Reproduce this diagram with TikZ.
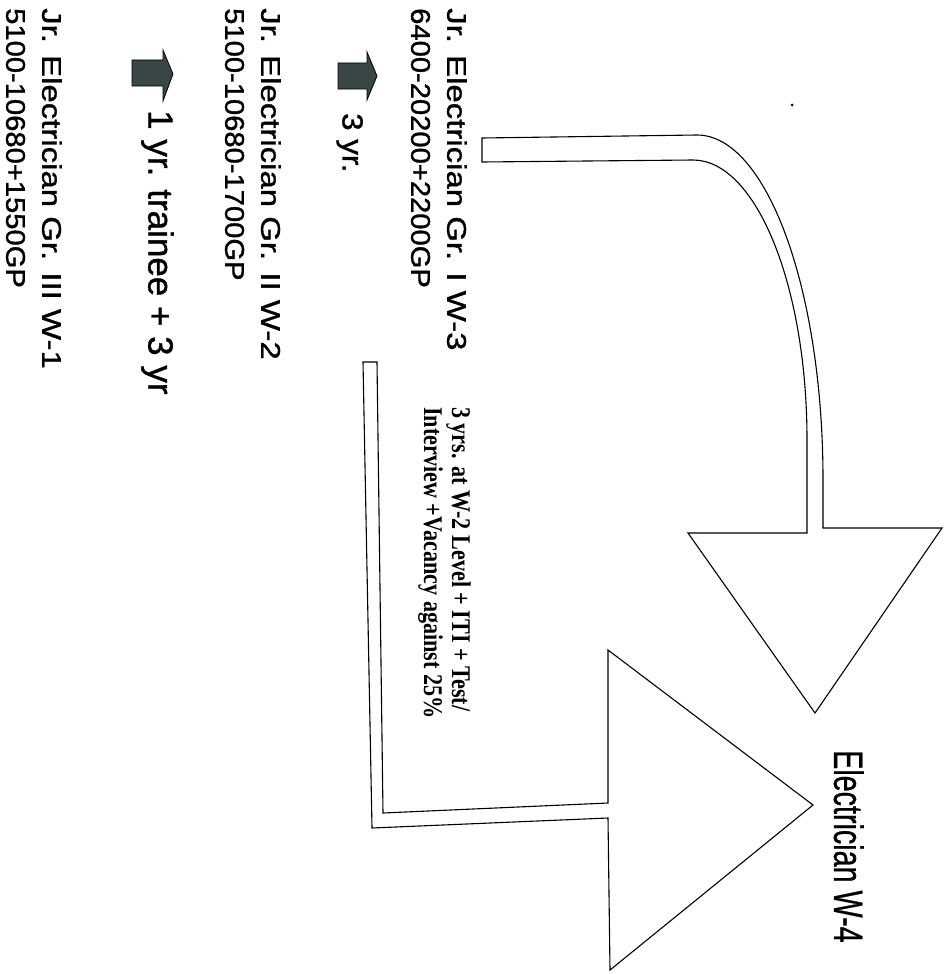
\documentclass[tikz,border=0pt]{standalone}
\usepackage{fontspec}
\setmainfont[FakeBold=1]{Liberation Sans}
\newfontfamily\namefont[FakeStretch=1.22,FakeBold=1.2]{Liberation Sans}
\newfontfamily\payfont[FakeStretch=1.08,FakeBold=1.2]{Liberation Sans}
\newfontfamily\postfont[FakeStretch=0.7,FakeBold=0.6]{Liberation Sans}
\newfontfamily\rulefont[FakeStretch=0.82]{Liberation Serif}
\usepackage{tikz}
\definecolor{blockgray}{HTML}{3A4646}

\begin{document}
\begin{tikzpicture}[x=1pt,y=-1pt,
    rank/.style={rotate=-90,anchor=north west,inner sep=0pt,align=left,
      font=\fontsize{27}{36}\selectfont},
    hollow/.style={draw,line width=1.1pt,fill=white,line join=miter},
    stub/.style={draw,line width=0.8pt,fill=blockgray}]
    \useasboundingbox (0,0) rectangle (944,974);
    % grades, bottom to top
    \node[rank] (w1) at (62,8)
      {{\namefont Jr. Electrician Gr. III W-1}\\{\payfont 5100-10680+1550GP}};
    \node[rank] (w2) at (281,8)
      {{\namefont Jr. Electrician Gr. II W-2}\\{\payfont 5100-10680-1700GP}};
    \node[rank] (w3) at (467,8)
      {{\namefont Jr. Electrician Gr. I W-3}\\{\payfont 6400-20200+2200GP}};
    \node[rank,font=\postfont\fontsize{41}{48}\selectfont] (w4) at (864,750) {Electrician W-4};
    %
    \node[rank,font=\fontsize{35}{40}\selectfont] (gap1) at (174,110) {1 yr. trainee + 3 yr};
    \node[rank,font=\payfont\fontsize{29}{36}\selectfont] (gap2) at (363,113) {3 yr.};
    \node[rank,font=\rulefont\bfseries\fontsize{27}{28}\selectfont] (cond) at (471,407)
      {3 yrs. at W-2 Level + ITI + Test/\\Interview +Vacancy against 25\%};
    %
    \draw[stub] (132,60) -- (163,60) -- (163,50) -- (173,74) -- (163,101) -- (163,86) -- (132,86) -- cycle;
    \draw[stub] (338,63) -- (367,63) -- (367,52) -- (377,76) -- (367,100) -- (367,89) -- (338,89) -- cycle;
    %
    \draw[hollow] (482,162) -- (693,160)
      arc[start angle=-90,end angle=0,x radius=114,y radius=280] -- (807,533)
      -- (688,533) -- (815,713) -- (942,528) -- (823,528) -- (823,480)
      arc[start angle=0,end angle=-90,x radius=126,y radius=345] -- (482,138) -- cycle;
    \draw[hollow] (363,362) -- (372,828) -- (608,818) -- (610,970) -- (813,805)
      -- (608,650) -- (608,803) -- (383,813) -- (377,362) -- cycle;
    \fill (792,105) circle[radius=1.5];
\end{tikzpicture}
\end{document}
